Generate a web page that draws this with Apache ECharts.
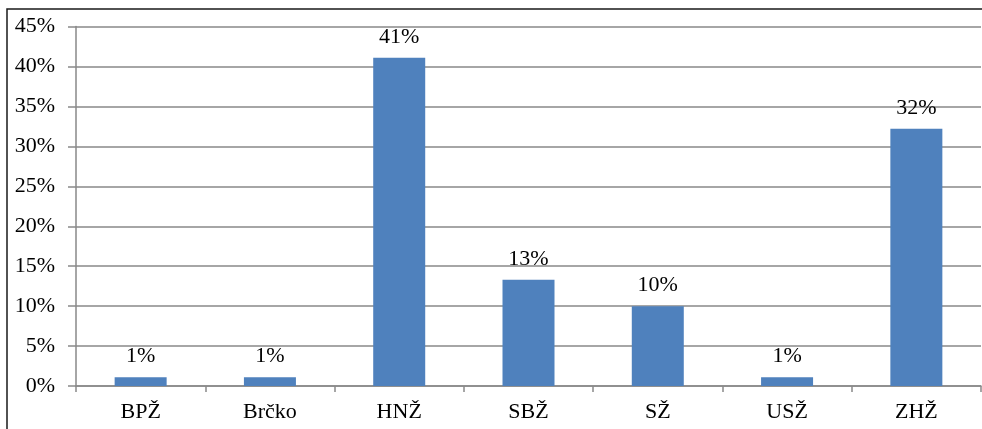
<!DOCTYPE html>
<html>
<head>
<meta charset="utf-8">
<script src="https://cdn.jsdelivr.net/npm/echarts@6/dist/echarts.min.js"></script>
<style>
html,body{margin:0;padding:0;background:#fff;}
#c{width:982px;height:429px;}
</style>
</head>
<body>
<div id="c"></div>
<script>
const categories = ['BPŽ', 'Brčko', 'HNŽ', 'SBŽ', 'SŽ', 'USŽ', 'ZHŽ'];
const values = [1.1, 1.1, 41.1, 13.3, 10.0, 1.1, 32.2];
const yTicks = [0, 5, 10, 15, 20, 25, 30, 35, 40, 45];

const chart = echarts.init(document.getElementById('c'), null, {renderer: 'canvas'});
const font = '"Liberation Serif", "Times New Roman", serif';
const grey = '#898989';
chart.setOption({
  animation: false,
  backgroundColor: '#fff',
  graphic: [{
    type: 'polyline',
    shape: {points: [[7, 600], [7, 9], [1100, 9]]},
    style: {fill: 'none', stroke: '#1a1a1a', lineWidth: 1.5},
    silent: true
  }],
  grid: {left: 76, right: 1, top: 26.6, bottom: 43, containLabel: false},
  xAxis: {
    type: 'category',
    data: categories,
    axisLine: {lineStyle: {color: grey, width: 1.5}},
    axisTick: {show: true, length: 6, inside: false, lineStyle: {color: grey, width: 1.5}},
    axisLabel: {fontFamily: font, fontSize: 22, color: '#000', margin: 15}
  },
  yAxis: {
    type: 'value',
    min: yTicks[0],
    max: yTicks[yTicks.length - 1],
    interval: 5,
    axisLine: {show: true, lineStyle: {color: grey, width: 1.5}},
    axisTick: {show: true, length: 8, lineStyle: {color: grey, width: 1.5}},
    splitLine: {show: true, lineStyle: {color: grey, width: 1.5}},
    axisLabel: {fontFamily: font, fontSize: 22, color: '#000', margin: 21,
      formatter: v => v + '%'}
  },
  series: [{
    type: 'bar',
    data: values,
    barWidth: 52,
    itemStyle: {color: '#4F81BD'},
    label: {
      show: true,
      position: 'top',
      distance: 10,
      fontFamily: font,
      fontSize: 22,
      color: '#000',
      formatter: p => Math.round(p.value) + '%'
    }
  }]
});
</script>
</body>
</html>
